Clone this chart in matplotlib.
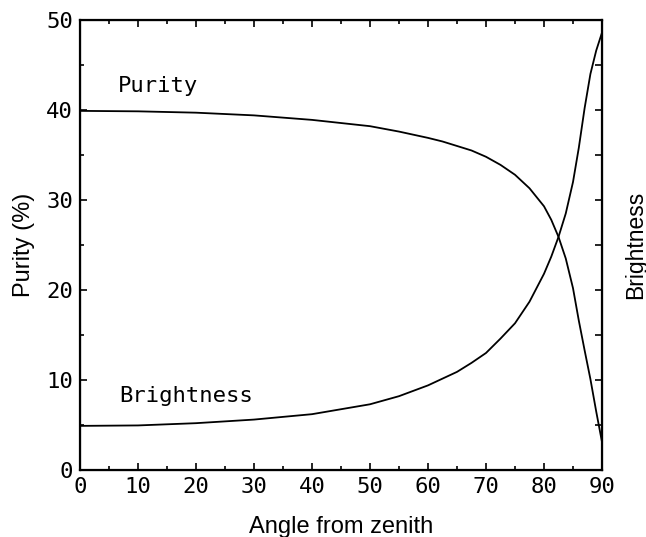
import matplotlib
matplotlib.use("Agg")
import matplotlib.pyplot as plt
from matplotlib.ticker import MultipleLocator

# Sky polarisation vs. zenith angle
angle_purity = [0, 10, 20, 30, 40, 50, 55, 60, 62.5, 65, 67.5, 70, 72.5, 75, 77.5, 80,
                81.25, 82.5, 83.75, 85, 86, 87, 88, 89, 90]
purity = [39.9, 39.85, 39.7, 39.4, 38.9, 38.2, 37.6, 36.9, 36.5, 36.0, 35.5, 34.8, 33.9,
          32.8, 31.3, 29.3, 27.8, 25.9, 23.5, 20.2, 16.6, 13.3, 10.1, 6.5, 3.1]

angle_bright = [0, 10, 20, 30, 40, 50, 55, 60, 65, 67.5, 70, 72.5, 75, 77.5, 80,
                81.25, 82.5, 83.75, 85, 86, 87, 88, 89, 90]
brightness = [4.9, 4.95, 5.2, 5.6, 6.2, 7.3, 8.2, 9.4, 10.9, 11.9, 13.0, 14.6, 16.3, 18.7,
              21.8, 23.7, 25.9, 28.5, 32.0, 35.8, 40.2, 44.0, 46.6, 48.6]

x_ticks = [0, 10, 20, 30, 40, 50, 60, 70, 80, 90]
y_ticks = [0, 10, 20, 30, 40, 50]

mono = "DejaVu Sans Mono"
sans = "Liberation Sans"

fig = plt.figure(figsize=(6.46, 5.37), dpi=100)
ax = fig.add_axes([0.1238, 0.1248, 0.8081, 0.838])

ax.plot(angle_purity, purity, color="black", linewidth=1.3)
ax.plot(angle_bright, brightness, color="black", linewidth=1.3)

ax.set_xlim(0, 90)
ax.set_ylim(0, 50)

ax.set_xticks(x_ticks)
ax.set_yticks(y_ticks)
ax.set_xticklabels([str(v) for v in x_ticks], family=mono, fontsize=16)
ax.set_yticklabels([str(v) for v in y_ticks], family=mono, fontsize=16)
ax.xaxis.set_minor_locator(MultipleLocator(5))
ax.yaxis.set_minor_locator(MultipleLocator(5))

ax.tick_params(which="both", direction="in", top=True, right=False, width=1.2)
ax.tick_params(which="major", length=5, pad=5)
ax.tick_params(which="minor", length=3)

for s in ax.spines.values():
    s.set_linewidth(1.6)

# right-hand axis: ticks every 5, no numbers
ax2 = ax.twinx()
ax2.set_ylim(0, 50)
ax2.yaxis.set_major_locator(MultipleLocator(5))
ax2.tick_params(direction="in", length=5, width=1.2, labelright=False)
ax2.set_ylabel("Brightness", family=sans, fontsize=16.5, labelpad=16)

ax.set_xlabel("Angle from zenith", family=sans, fontsize=17, labelpad=14)
ax.set_ylabel("Purity (%)", family=sans, fontsize=17, labelpad=8)

ax.text(6.5, 42, "Purity", family=mono, fontsize=16, ha="left", va="baseline")
ax.text(6.7, 7.6, "Brightness", family=mono, fontsize=16, ha="left", va="baseline")

fig.savefig("out.png", dpi=100)
